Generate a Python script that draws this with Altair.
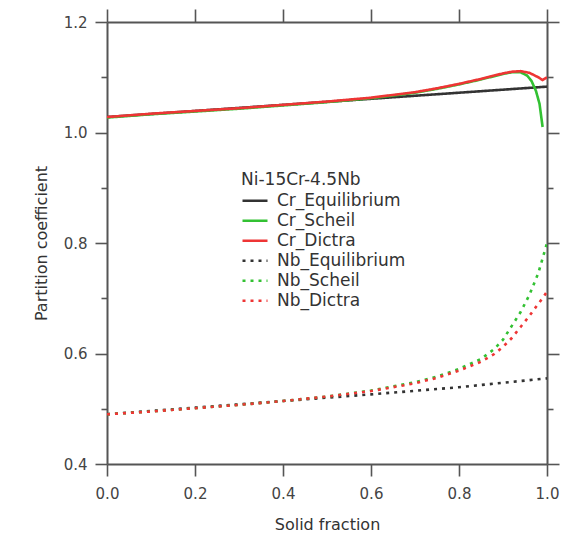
import altair as alt
import pandas as pd

series_names = ["Cr_Equilibrium", "Cr_Scheil", "Cr_Dictra",
                "Nb_Equilibrium", "Nb_Scheil", "Nb_Dictra"]
series_colors = ["#333333", "#33c133", "#ee3535", "#333333", "#33c133", "#ee3535"]
series_dash = [[1, 0], [1, 0], [1, 0], [3, 5], [3, 5], [3, 5]]

cr_eq_x = [0.0, 0.2, 0.4, 0.6, 0.8, 1.0]
cr_eq_y = [1.028, 1.039, 1.050, 1.061, 1.072, 1.083]

cr_scheil_x = [0.0, 0.1, 0.2, 0.3, 0.4, 0.5, 0.6, 0.7, 0.75, 0.8, 0.85, 0.88, 0.9,
               0.92, 0.94, 0.955, 0.965, 0.975, 0.983, 0.99]
cr_scheil_y = [1.027, 1.033, 1.038, 1.043, 1.049, 1.055, 1.062, 1.072, 1.079, 1.087,
               1.096, 1.102, 1.106, 1.109, 1.109, 1.103, 1.093, 1.075, 1.052, 1.010]

cr_dictra_x = [0.0, 0.1, 0.2, 0.3, 0.4, 0.5, 0.6, 0.7, 0.75, 0.8, 0.85, 0.88, 0.9,
               0.92, 0.94, 0.96, 0.98, 0.99, 1.0]
cr_dictra_y = [1.028, 1.034, 1.039, 1.044, 1.050, 1.056, 1.063, 1.073, 1.080, 1.088,
               1.097, 1.103, 1.107, 1.110, 1.111, 1.108, 1.100, 1.095, 1.100]

nb_eq_x = [0.0, 0.2, 0.4, 0.6, 0.8, 1.0]
nb_eq_y = [0.490, 0.502, 0.514, 0.526, 0.539, 0.555]

nb_x = [0.0, 0.1, 0.2, 0.3, 0.4, 0.5, 0.6, 0.7, 0.75, 0.8, 0.85, 0.88, 0.9,
        0.92, 0.94, 0.96, 0.98, 0.99, 1.0]
nb_scheil_y = [0.490, 0.495, 0.501, 0.507, 0.514, 0.522, 0.533, 0.548, 0.558, 0.572,
               0.590, 0.608, 0.625, 0.650, 0.675, 0.706, 0.745, 0.772, 0.800]
nb_dictra_y = [0.490, 0.495, 0.501, 0.507, 0.514, 0.522, 0.532, 0.546, 0.556, 0.569,
               0.585, 0.599, 0.612, 0.628, 0.648, 0.668, 0.690, 0.700, 0.712]

x_ticks = [0.0, 0.2, 0.4, 0.6, 0.8, 1.0]
y_ticks = [0.4, 0.5, 0.6, 0.7, 0.8, 0.9, 1.0, 1.1, 1.2]

rows = []
for name, xs, ys in [("Cr_Equilibrium", cr_eq_x, cr_eq_y),
                     ("Cr_Scheil", cr_scheil_x, cr_scheil_y),
                     ("Cr_Dictra", cr_dictra_x, cr_dictra_y),
                     ("Nb_Equilibrium", nb_eq_x, nb_eq_y),
                     ("Nb_Scheil", nb_x, nb_scheil_y),
                     ("Nb_Dictra", nb_x, nb_dictra_y)]:
    for xv, yv in zip(xs, ys):
        rows.append({"x": xv, "y": yv, "series": name})
df = pd.DataFrame(rows)

FONT = "DejaVu Sans"
AX = "#555555"
major = "abs(datum.value*5 - round(datum.value*5)) < 0.01"
ysize = {"condition": {"test": major, "value": 12}, "value": 6}

xscale = alt.Scale(domain=[0, 1], nice=False, zero=False)
yscale = alt.Scale(domain=[0.4, 1.2], nice=False, zero=False)

legend = alt.Legend(
    title="Ni-15Cr-4.5Nb", orient="none", legendX=134, legendY=150,
    titleFont=FONT, titleFontSize=17, titleFontWeight="normal", titleColor="#333333",
    labelFont=FONT, labelFontSize=17, labelColor="#333333", labelOffset=8,
    symbolType="stroke", symbolSize=625, symbolStrokeWidth=2.5,
    clipHeight=19.3, rowPadding=0, titlePadding=2, padding=0, labelLimit=300,
)

lines = alt.Chart(df).mark_line(strokeWidth=2.6, clip=True).encode(
    x=alt.X("x:Q", scale=xscale, axis=alt.Axis(
        orient="bottom", values=x_ticks, format=".1f", title="Solid fraction",
        tickSize=12, labelPadding=10, titlePadding=15, grid=False, labelFlush=False)),
    y=alt.Y("y:Q", scale=yscale, axis=alt.Axis(
        orient="left", values=y_ticks, title="Partition coefficient",
        labelExpr=f"{major} ? format(datum.value, '.1f') : ''",
        tickSize=ysize, labelPadding=8, titlePadding=14, grid=False, labelFlush=False)),
    color=alt.Color("series:N", scale=alt.Scale(domain=series_names, range=series_colors),
                    legend=legend),
    strokeDash=alt.StrokeDash("series:N", scale=alt.Scale(domain=series_names, range=series_dash),
                              legend=legend),
)

frame = alt.Chart(df).mark_point(opacity=0).encode(
    x=alt.X("x:Q", axis=alt.Axis(orient="top", values=x_ticks, labels=False, title=None,
                                  tickSize=13, grid=False)),
    y=alt.Y("y:Q", axis=alt.Axis(orient="right", values=y_ticks, labels=False, title=None,
                                  tickSize=ysize, grid=False)),
)

chart = alt.layer(lines, frame).resolve_axis(x="independent", y="independent").properties(
    width=440, height=442,
    padding={"left": 107, "top": 22, "right": 31, "bottom": 71},
    autosize=alt.AutoSizeParams(type="none"),
    background="white",
).configure_view(stroke=None).configure_axis(
    domainColor=AX, domainWidth=2, tickColor=AX, tickWidth=1.6,
    labelFont=FONT, labelFontSize=15, labelColor="#444444",
    titleFont=FONT, titleFontSize=16, titleFontWeight="normal", titleColor="#333333",
)

chart.save("out.html", embed_options={"renderer": "svg", "actions": False})
